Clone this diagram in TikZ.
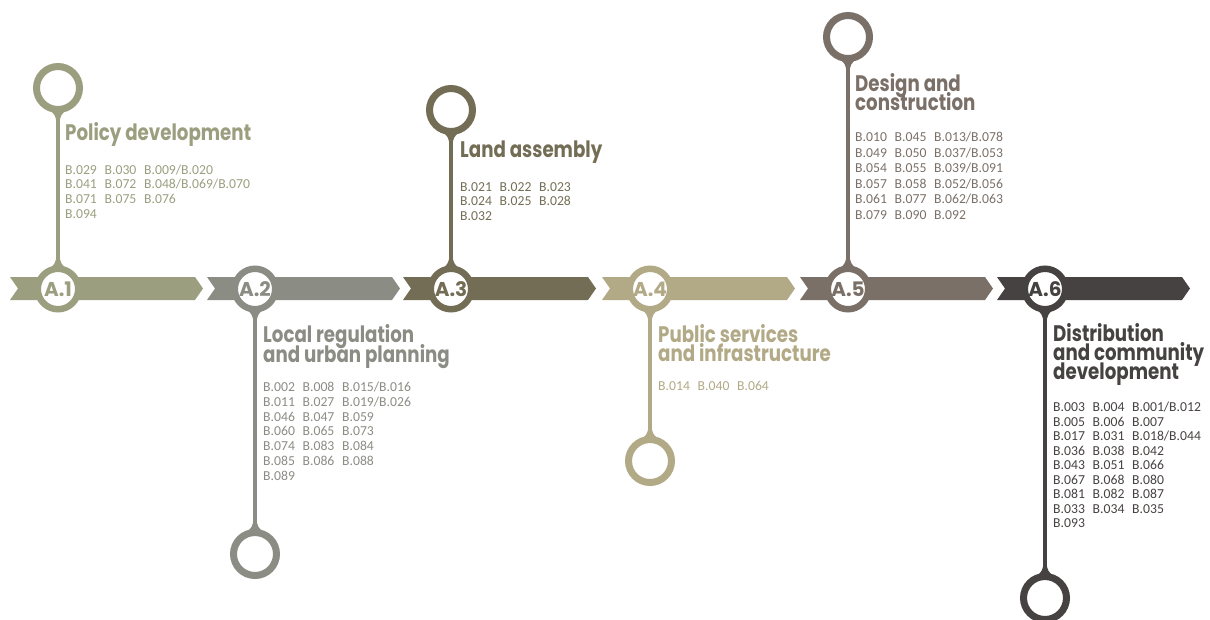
\documentclass[tikz,border=0pt]{standalone}
\usepackage{fontspec}
\setmainfont{Carlito}
\newfontfamily\ttlfont[FakeStretch=0.81]{Poppins}
\newfontfamily\lblfont{Poppins}
\usetikzlibrary{calc}
\definecolor{c1}{HTML}{9B9E7F}
\definecolor{c2}{HTML}{8B8C84}
\definecolor{c3}{HTML}{736D55}
\definecolor{c4}{HTML}{B2A986}
\definecolor{c5}{HTML}{7B7068}
\definecolor{c6}{HTML}{474242}
\pgfdeclarelayer{bg}
\pgfsetlayers{bg,main}
\newcommand\cdl[3]{\makebox[39.5pt][l]{#1}&\makebox[39.5pt][l]{#2}&#3}
\newcommand\ttllines[2]{\vtop{\baselineskip=#1pt\lineskiplimit=-100pt\lineskip=0pt #2}}
\tikzset{
  bandring/.style={circle, draw=#1, line width=6.5pt, fill=white, minimum size=40.5pt, inner sep=0pt, text=#1, font=\lblfont\bfseries\fontsize{20}{20}\selectfont},
  endring/.style={circle, draw=#1, line width=7pt, fill=white, minimum size=43pt, inner sep=0pt},
  stem/.style={draw=#1, line width=3.3pt},
  ttl/.style={anchor=base west, inner sep=0pt, text=#1, font=\ttlfont\bfseries\fontsize{22.5}{19}\selectfont},
  codes/.style={anchor=base west, inner sep=0pt, text=#1},
  flare/.pic={\fill (-1.65,-10) .. controls (-1.65,-4) and (-4,0) .. (-8,2.5) -- (8,2.5) .. controls (4,0) and (1.65,-4) .. (1.65,-10) -- cycle;},
}
\newcommand\bandarrow[2]{\fill[#2] (#1,277) -- ++(185,0) -- ++(8,11.5) -- ++(-8,11.5) -- ++(-185,0) -- ++(8,-11.5) -- cycle;}
\begin{document}
\begin{tikzpicture}[x=1pt,y=-1pt]
\useasboundingbox (0,0) rectangle (1210,619);
% band circles
\node[bandring=c1] (a1) at (58,289) {A.1};
\node[bandring=c2] (a2) at (255,289) {A.2};
\node[bandring=c3] (a3) at (451,289) {A.3};
\node[bandring=c4] (a4) at (650,289) {A.4};
\node[bandring=c5] (a5) at (848,289) {A.5};
\node[bandring=c6] (a6) at (1045,289) {A.6};
% end circles
\node[endring=c1] (p1) at (58,88) {};
\node[endring=c2] (p2) at (255,554) {};
\node[endring=c3] (p3) at (451,110) {};
\node[endring=c4] (p4) at (650,461) {};
\node[endring=c5] (p5) at (848,37) {};
\node[endring=c6] (p6) at (1045,598) {};
\begin{pgfonlayer}{bg}
\bandarrow{10}{c1}
\bandarrow{207}{c2}
\bandarrow{403}{c3}
\bandarrow{602}{c4}
\bandarrow{800}{c5}
\bandarrow{997}{c6}
\draw[stem=c1] (p1) -- (a1);
\draw[stem=c2] (a2) -- (p2);
\draw[stem=c3] (p3) -- (a3);
\draw[stem=c4] (a4) -- (p4);
\draw[stem=c5] (p5) -- (a5);
\draw[stem=c6] (a6) -- (p6);
\pic[color=c1] at (58,265.5) {flare};
\pic[color=c1,yscale=-1] at (58,113) {flare};
\pic[color=c3] at (451,265.5) {flare};
\pic[color=c3,yscale=-1] at (451,135) {flare};
\pic[color=c5] at (848,265.5) {flare};
\pic[color=c5,yscale=-1] at (848,62) {flare};
\pic[color=c2,yscale=-1] at (255,312.5) {flare};
\pic[color=c2] at (255,529) {flare};
\pic[color=c4,yscale=-1] at (650,312.5) {flare};
\pic[color=c4] at (650,436) {flare};
\pic[color=c6,yscale=-1] at (1045,312.5) {flare};
\pic[color=c6] at (1045,573) {flare};
\end{pgfonlayer}
% titles
\node[ttl=c1] (t1) at (65,140) {Policy development};
\node[ttl=c3] (t3) at (460,157) {Land assembly};
\node[ttl=c5] (t5) at (855,91) {\ttllines{19.5}{\hbox{Design and}\hbox{construction}}};
\node[ttl=c2] (t2) at (263,342) {\ttllines{20}{\hbox{Local regulation}\hbox{and urban planning}}};
\node[ttl=c4] (t4) at (658,342) {\ttllines{19}{\hbox{Public services}\hbox{and infrastructure}}};
\node[ttl=c6] (t6) at (1053,341) {\ttllines{19}{\hbox{Distribution}\hbox{and community}\hbox{development}}};
% codes
\node[codes=c1, font=\fontsize{13.7}{14.7}\selectfont] (k1) at (65,174) {\begin{tabular}[t]{@{}l@{}l@{}l@{}}
\cdl{B.029}{B.030}{B.009/B.020}\\
\cdl{B.041}{B.072}{B.048/B.069/B.070}\\
\cdl{B.071}{B.075}{B.076}\\
\cdl{B.094}{}{}\end{tabular}};
\node[codes=c3, font=\fontsize{13.7}{14.5}\selectfont] (k3) at (460,191) {\begin{tabular}[t]{@{}l@{}l@{}l@{}}
\cdl{B.021}{B.022}{B.023}\\
\cdl{B.024}{B.025}{B.028}\\
\cdl{B.032}{}{}\end{tabular}};
\node[codes=c5, font=\fontsize{13.7}{15.6}\selectfont] (k5) at (855,141.5) {\begin{tabular}[t]{@{}l@{}l@{}l@{}}
\cdl{B.010}{B.045}{B.013/B.078}\\
\cdl{B.049}{B.050}{B.037/B.053}\\
\cdl{B.054}{B.055}{B.039/B.091}\\
\cdl{B.057}{B.058}{B.052/B.056}\\
\cdl{B.061}{B.077}{B.062/B.063}\\
\cdl{B.079}{B.090}{B.092}\end{tabular}};
\node[codes=c2, font=\fontsize{13.7}{14.8}\selectfont] (k2) at (263,391.5) {\begin{tabular}[t]{@{}l@{}l@{}l@{}}
\cdl{B.002}{B.008}{B.015/B.016}\\
\cdl{B.011}{B.027}{B.019/B.026}\\
\cdl{B.046}{B.047}{B.059}\\
\cdl{B.060}{B.065}{B.073}\\
\cdl{B.074}{B.083}{B.084}\\
\cdl{B.085}{B.086}{B.088}\\
\cdl{B.089}{}{}\end{tabular}};
\node[codes=c4, font=\fontsize{13.7}{14.8}\selectfont] (k4) at (658,390) {\begin{tabular}[t]{@{}l@{}l@{}l@{}}
\cdl{B.014}{B.040}{B.064}\end{tabular}};
\node[codes=c6, font=\fontsize{13.7}{14.5}\selectfont] (k6) at (1053,411.5) {\begin{tabular}[t]{@{}l@{}l@{}l@{}}
\cdl{B.003}{B.004}{B.001/B.012}\\
\cdl{B.005}{B.006}{B.007}\\
\cdl{B.017}{B.031}{B.018/B.044}\\
\cdl{B.036}{B.038}{B.042}\\
\cdl{B.043}{B.051}{B.066}\\
\cdl{B.067}{B.068}{B.080}\\
\cdl{B.081}{B.082}{B.087}\\
\cdl{B.033}{B.034}{B.035}\\
\cdl{B.093}{}{}\end{tabular}};
\end{tikzpicture}
\end{document}
